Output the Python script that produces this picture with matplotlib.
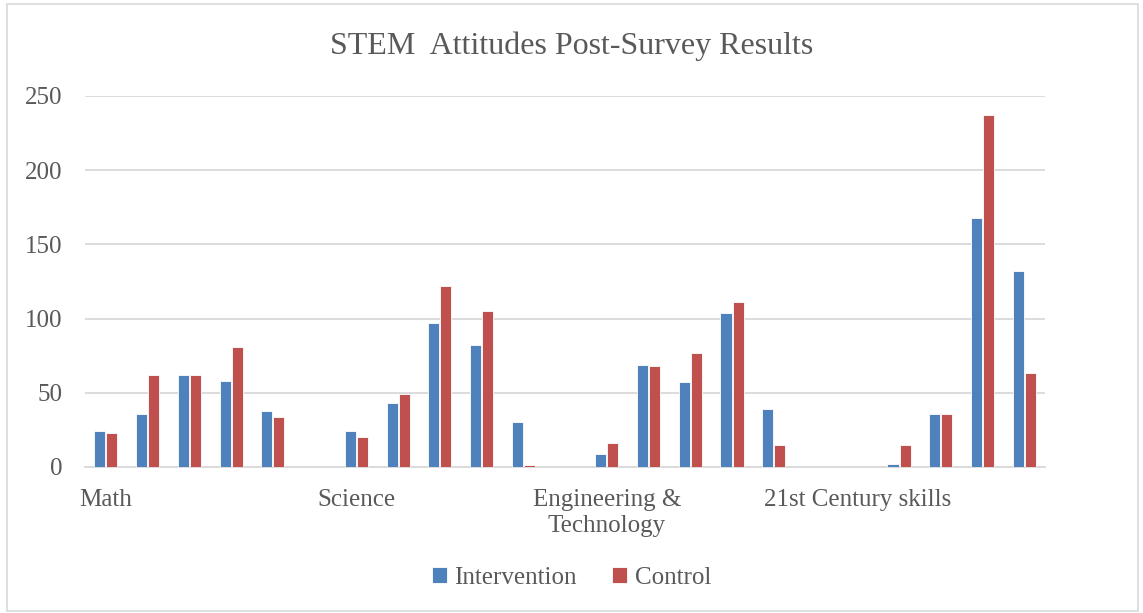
import numpy as np
import matplotlib.pyplot as plt
from matplotlib.patches import Rectangle

plt.rcParams['font.family'] = ['Liberation Serif', 'DejaVu Serif']

labels = ['Math', '', '', '', '', '', 'Science', '', '', '', '', '',
          'Engineering &\nTechnology', '', '', '', '', '',
          '21st Century skills', '', '', '', '']
intervention = [24, 36, 62, 58, 38, np.nan, 24, 43, 97, 82, 30, np.nan,
                9, 69, 57, 104, 39, np.nan, np.nan, 2, 36, 168, 132]
control = [23, 62, 62, 81, 34, np.nan, 20, 49, 122, 105, 1, np.nan,
           16, 68, 77, 111, 15, np.nan, np.nan, 15, 36, 237, 63]
series = ['Intervention', 'Control']

blue = '#4f81bd'
red = '#c0504d'
grey = '#595959'

fig = plt.figure(figsize=(11.43, 6.13), dpi=100)
fig.patches.append(Rectangle((0.006, 0.004), 0.99, 0.99, transform=fig.transFigure,
                             fill=False, edgecolor='#d9d9d9', lw=1.2))
ax = fig.add_axes([0.0744, 0.2382, 0.84, 0.6052])

x = np.arange(len(labels))
w = 0.265
ax.bar(x - 0.145, intervention, w, color=blue, edgecolor='white', lw=0.6,
       label=series[0], zorder=3)
ax.bar(x + 0.145, control, w, color=red, edgecolor='white', lw=0.6,
       label=series[1], zorder=3)

ax.set_xlim(-0.5, len(labels) - 0.5)
ax.set_ylim(0, 250)
ax.set_yticks(range(0, 251, 50))
ax.yaxis.grid(True, color='#d9d9d9', lw=1.3, zorder=0)
ax.set_axisbelow(True)
for s in ['top', 'right', 'left']:
    ax.spines[s].set_visible(False)
ax.spines['bottom'].set_color('#d9d9d9')
ax.spines['bottom'].set_linewidth(1.3)
ax.set_xticks(x)
ax.set_xticklabels(labels, linespacing=1.2)
ax.tick_params(axis='both', length=0, labelsize=18, colors=grey)
ax.tick_params(axis='x', pad=16)
ax.tick_params(axis='y', pad=16)

fig.text(0.5, 0.925, 'STEM  Attitudes Post-Survey Results', ha='center', va='center',
         fontsize=23, color=grey)

leg = fig.legend(loc='center', bbox_to_anchor=(0.5, 0.057), ncol=2, frameon=False,
                 fontsize=18, handlelength=0.6, handleheight=0.6,
                 handletextpad=0.3, columnspacing=1.4)
for t in leg.get_texts():
    t.set_color(grey)

fig.savefig('out.png', dpi=100)
